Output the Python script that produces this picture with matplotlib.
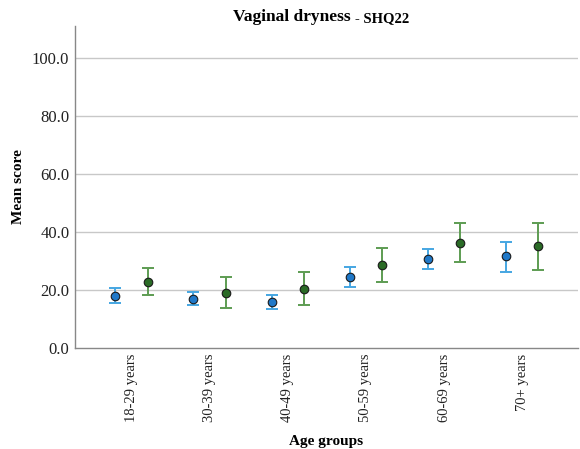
import numpy as np
import matplotlib.pyplot as plt

groups = ['18-29 years', '30-39 years', '40-49 years', '50-59 years', '60-69 years', '70+ years']

blue_mean = [17.9, 16.9, 15.9, 24.5, 30.7, 31.7]
blue_low = [15.5, 14.8, 13.4, 21.0, 27.2, 26.2]
blue_high = [20.7, 19.3, 18.3, 27.9, 34.1, 36.6]

green_mean = [22.8, 19.0, 20.3, 28.6, 36.2, 35.2]
green_low = [18.3, 13.8, 14.8, 22.8, 29.7, 26.9]
green_high = [27.6, 24.5, 26.2, 34.5, 43.1, 43.1]

plt.rcParams['font.family'] = ['Liberation Serif', 'DejaVu Serif']

fig = plt.figure(figsize=(5.8, 4.49), dpi=100)
ax = fig.add_axes([0.129, 0.225, 0.868, 0.717])

x = np.arange(len(groups))
off = 0.21

def draw(xs, mean, low, high, line_color, face_color):
    mean = np.array(mean)
    err = [mean - np.array(low), np.array(high) - mean]
    ax.errorbar(xs, mean, yerr=err, fmt='none', ecolor=line_color,
                elinewidth=1.4, capsize=4.5, capthick=1.4, zorder=3)
    ax.scatter(xs, mean, s=38, color=face_color, edgecolor='#1a1a1a',
               linewidth=0.8, zorder=4)

draw(x - off, blue_mean, blue_low, blue_high, '#45a6e2', '#1f78c8')
draw(x + off, green_mean, green_low, green_high, '#5d9c52', '#2a6b26')

ax.set_xlim(-0.73, 5.72)
ax.set_ylim(0, 111)
ax.set_yticks([0, 20, 40, 60, 80, 100])
ax.set_yticklabels(['0.0', '20.0', '40.0', '60.0', '80.0', '100.0'], fontsize=12)
ax.set_xticks(x)
ax.set_xticklabels(groups, rotation=90, fontsize=10.5)
ax.tick_params(axis='both', length=0, pad=4, colors='#222222')

for v in [20, 40, 60, 80, 100]:
    ax.axhline(v, color='#c8c8c8', linewidth=1.0, zorder=1)

for s in ['top', 'right']:
    ax.spines[s].set_visible(False)
for s in ['left', 'bottom']:
    ax.spines[s].set_color('#888888')
    ax.spines[s].set_linewidth(1.0)

ax.set_ylabel('Mean score', fontsize=11, fontweight='bold', labelpad=5)
ax.set_xlabel('Age groups', fontsize=11, fontweight='bold', labelpad=9)

fig.text(0.604, 0.962, 'Vaginal dryness', fontsize=12.5, fontweight='bold', ha='right', va='center')
fig.text(0.612, 0.958, '- SHQ22', fontsize=10.5, fontweight='bold', ha='left', va='center')

fig.savefig('out.png', dpi=100)
